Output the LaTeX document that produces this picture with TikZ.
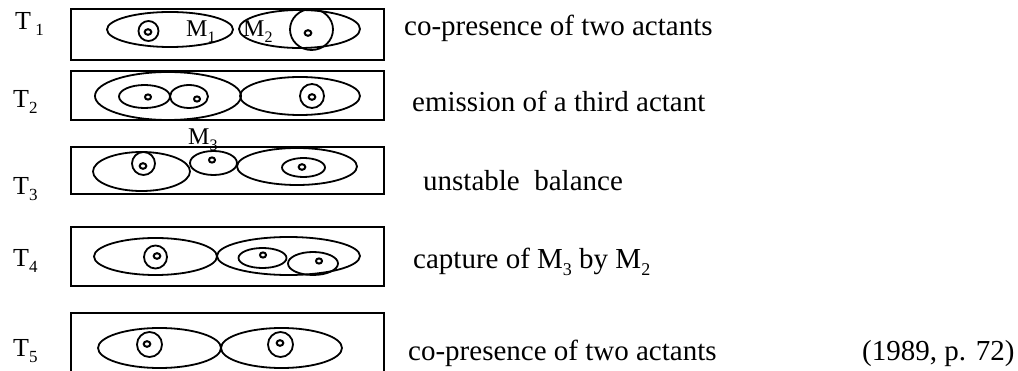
\documentclass[tikz,border=0pt]{standalone}
\usepackage{fontspec}
\setmainfont{Liberation Serif}
\newcommand{\lowsub}[2][18]{\raisebox{-0.22em}{\fontsize{#1}{#1}\selectfont #2}}
\begin{document}
\begin{tikzpicture}[x=1pt,y=-1pt,
  frame/.style={draw, line width=1.8pt},
  blob/.style={draw, line width=1.8pt},
  dotm/.style={draw, line width=2pt},
  lab/.style={anchor=base west, inner sep=0pt, font=\fontsize{29}{34}\selectfont},
  tlab/.style={anchor=base west, inner sep=0pt, font=\fontsize{26}{30}\selectfont},
  mlab/.style={anchor=base west, inner sep=0pt, font=\fontsize{24}{28}\selectfont}]
\useasboundingbox (0,0) rectangle (1018,371);

% ---------- T1 ----------
\node[tlab] (t1) at (15,30) {T\,\lowsub[17]{1}};
\draw[frame] (71,9) rectangle (384,60);
\draw[blob] (170,29.5) ellipse [x radius=63pt, y radius=17.5pt];
\draw[blob] (299.5,29) ellipse [x radius=60.5pt, y radius=19pt];
\draw[blob] (148.5,31) circle [radius=10pt];
\draw[dotm] (148,32) ellipse [x radius=3.3pt, y radius=2.8pt];
\draw[blob] (311.5,29.5) ellipse [x radius=21.5pt, y radius=20.5pt];
\draw[dotm] (308,33) ellipse [x radius=3.3pt, y radius=2.8pt];
\node[mlab] (m1) at (186,37) {M\lowsub[16]{1}};
\node[mlab] (m2) at (243,37) {M\lowsub[16]{2}};
\node[lab] (d1) at (404,36) {co-presence of two actants};

% ---------- T2 ----------
\node[tlab] (t2) at (13,108) {T\lowsub[17]{2}};
\draw[frame] (71,71) rectangle (384,120);
\draw[blob] (168,96) ellipse [x radius=73pt, y radius=24pt];
\draw[blob] (144.5,96.5) ellipse [x radius=25.5pt, y radius=11.5pt];
\draw[blob] (189,96.5) ellipse [x radius=19pt, y radius=11.5pt];
\draw[dotm] (148,97) ellipse [x radius=3pt, y radius=2.6pt];
\draw[dotm] (197,99) ellipse [x radius=3pt, y radius=2.6pt];
\draw[blob] (300,96) ellipse [x radius=60pt, y radius=19pt];
\draw[blob] (312,96) circle [radius=12pt];
\draw[dotm] (312,97) ellipse [x radius=3.3pt, y radius=2.8pt];
\node[lab] (d2) at (412,112) {emission of a third actant};

% ---------- T3 ----------
\node[mlab] (m3) at (188,145) {M\lowsub[16]{3}};
\node[tlab] (t3) at (13,195) {T\lowsub[17]{3}};
\draw[frame] (71,147) rectangle (384,194);
\draw[blob] (141.5,171.5) ellipse [x radius=48.5pt, y radius=19.5pt];
\draw[blob] (143.5,163.5) circle [radius=11.5pt];
\draw[dotm] (143,166) ellipse [x radius=3.3pt, y radius=2.8pt];
\draw[blob] (213.5,163) ellipse [x radius=23.5pt, y radius=12pt];
\draw[dotm] (212,160) ellipse [x radius=3pt, y radius=2.6pt];
\draw[blob] (297,166.5) ellipse [x radius=60pt, y radius=18.5pt];
\draw[blob] (303.5,167.5) ellipse [x radius=21.5pt, y radius=9.5pt];
\draw[dotm] (302,167) ellipse [x radius=3.3pt, y radius=2.8pt];
\node[lab] (d3) at (423,191) {unstable\ \ balance};

% ---------- T4 ----------
\node[tlab] (t4) at (13,267) {T\lowsub[17]{4}};
\draw[frame] (71,227) rectangle (384,286);
\draw[blob] (155.5,256.5) ellipse [x radius=61.5pt, y radius=18.5pt];
\draw[blob] (155.5,257) circle [radius=11.5pt];
\draw[dotm] (157,256) ellipse [x radius=3.3pt, y radius=2.8pt];
\draw[blob] (288.5,256) ellipse [x radius=71.5pt, y radius=19pt];
\draw[blob] (262.5,258) ellipse [x radius=24pt, y radius=10pt];
\draw[dotm] (263,255) ellipse [x radius=3pt, y radius=2.6pt];
\draw[blob] (313,263.5) ellipse [x radius=25pt, y radius=11.5pt];
\draw[dotm] (319,261) ellipse [x radius=3pt, y radius=2.6pt];
\node[lab] (d4) at (413,269) {capture of M\lowsub{3} by M\lowsub{2}};

% ---------- T5 ----------
\node[tlab] (t5) at (13,357) {T\lowsub[17]{5}};
\draw[frame] (71,373) -- (71,313) -- (384,313) -- (384,373);
\draw[blob] (159.5,348) ellipse [x radius=61.5pt, y radius=20pt];
\draw[blob] (149.5,344.5) circle [radius=12.5pt];
\draw[dotm] (147,344) ellipse [x radius=3.3pt, y radius=2.8pt];
\draw[blob] (281.5,348) ellipse [x radius=60.5pt, y radius=20pt];
\draw[blob] (280.5,344.5) circle [radius=12.5pt];
\draw[dotm] (280,343) ellipse [x radius=3.3pt, y radius=2.8pt];
\node[lab] (d5) at (408,361) {co-presence of two actants};
\node[lab] (src) at (862,361) {(1989, p. 72)};
\end{tikzpicture}
\end{document}
